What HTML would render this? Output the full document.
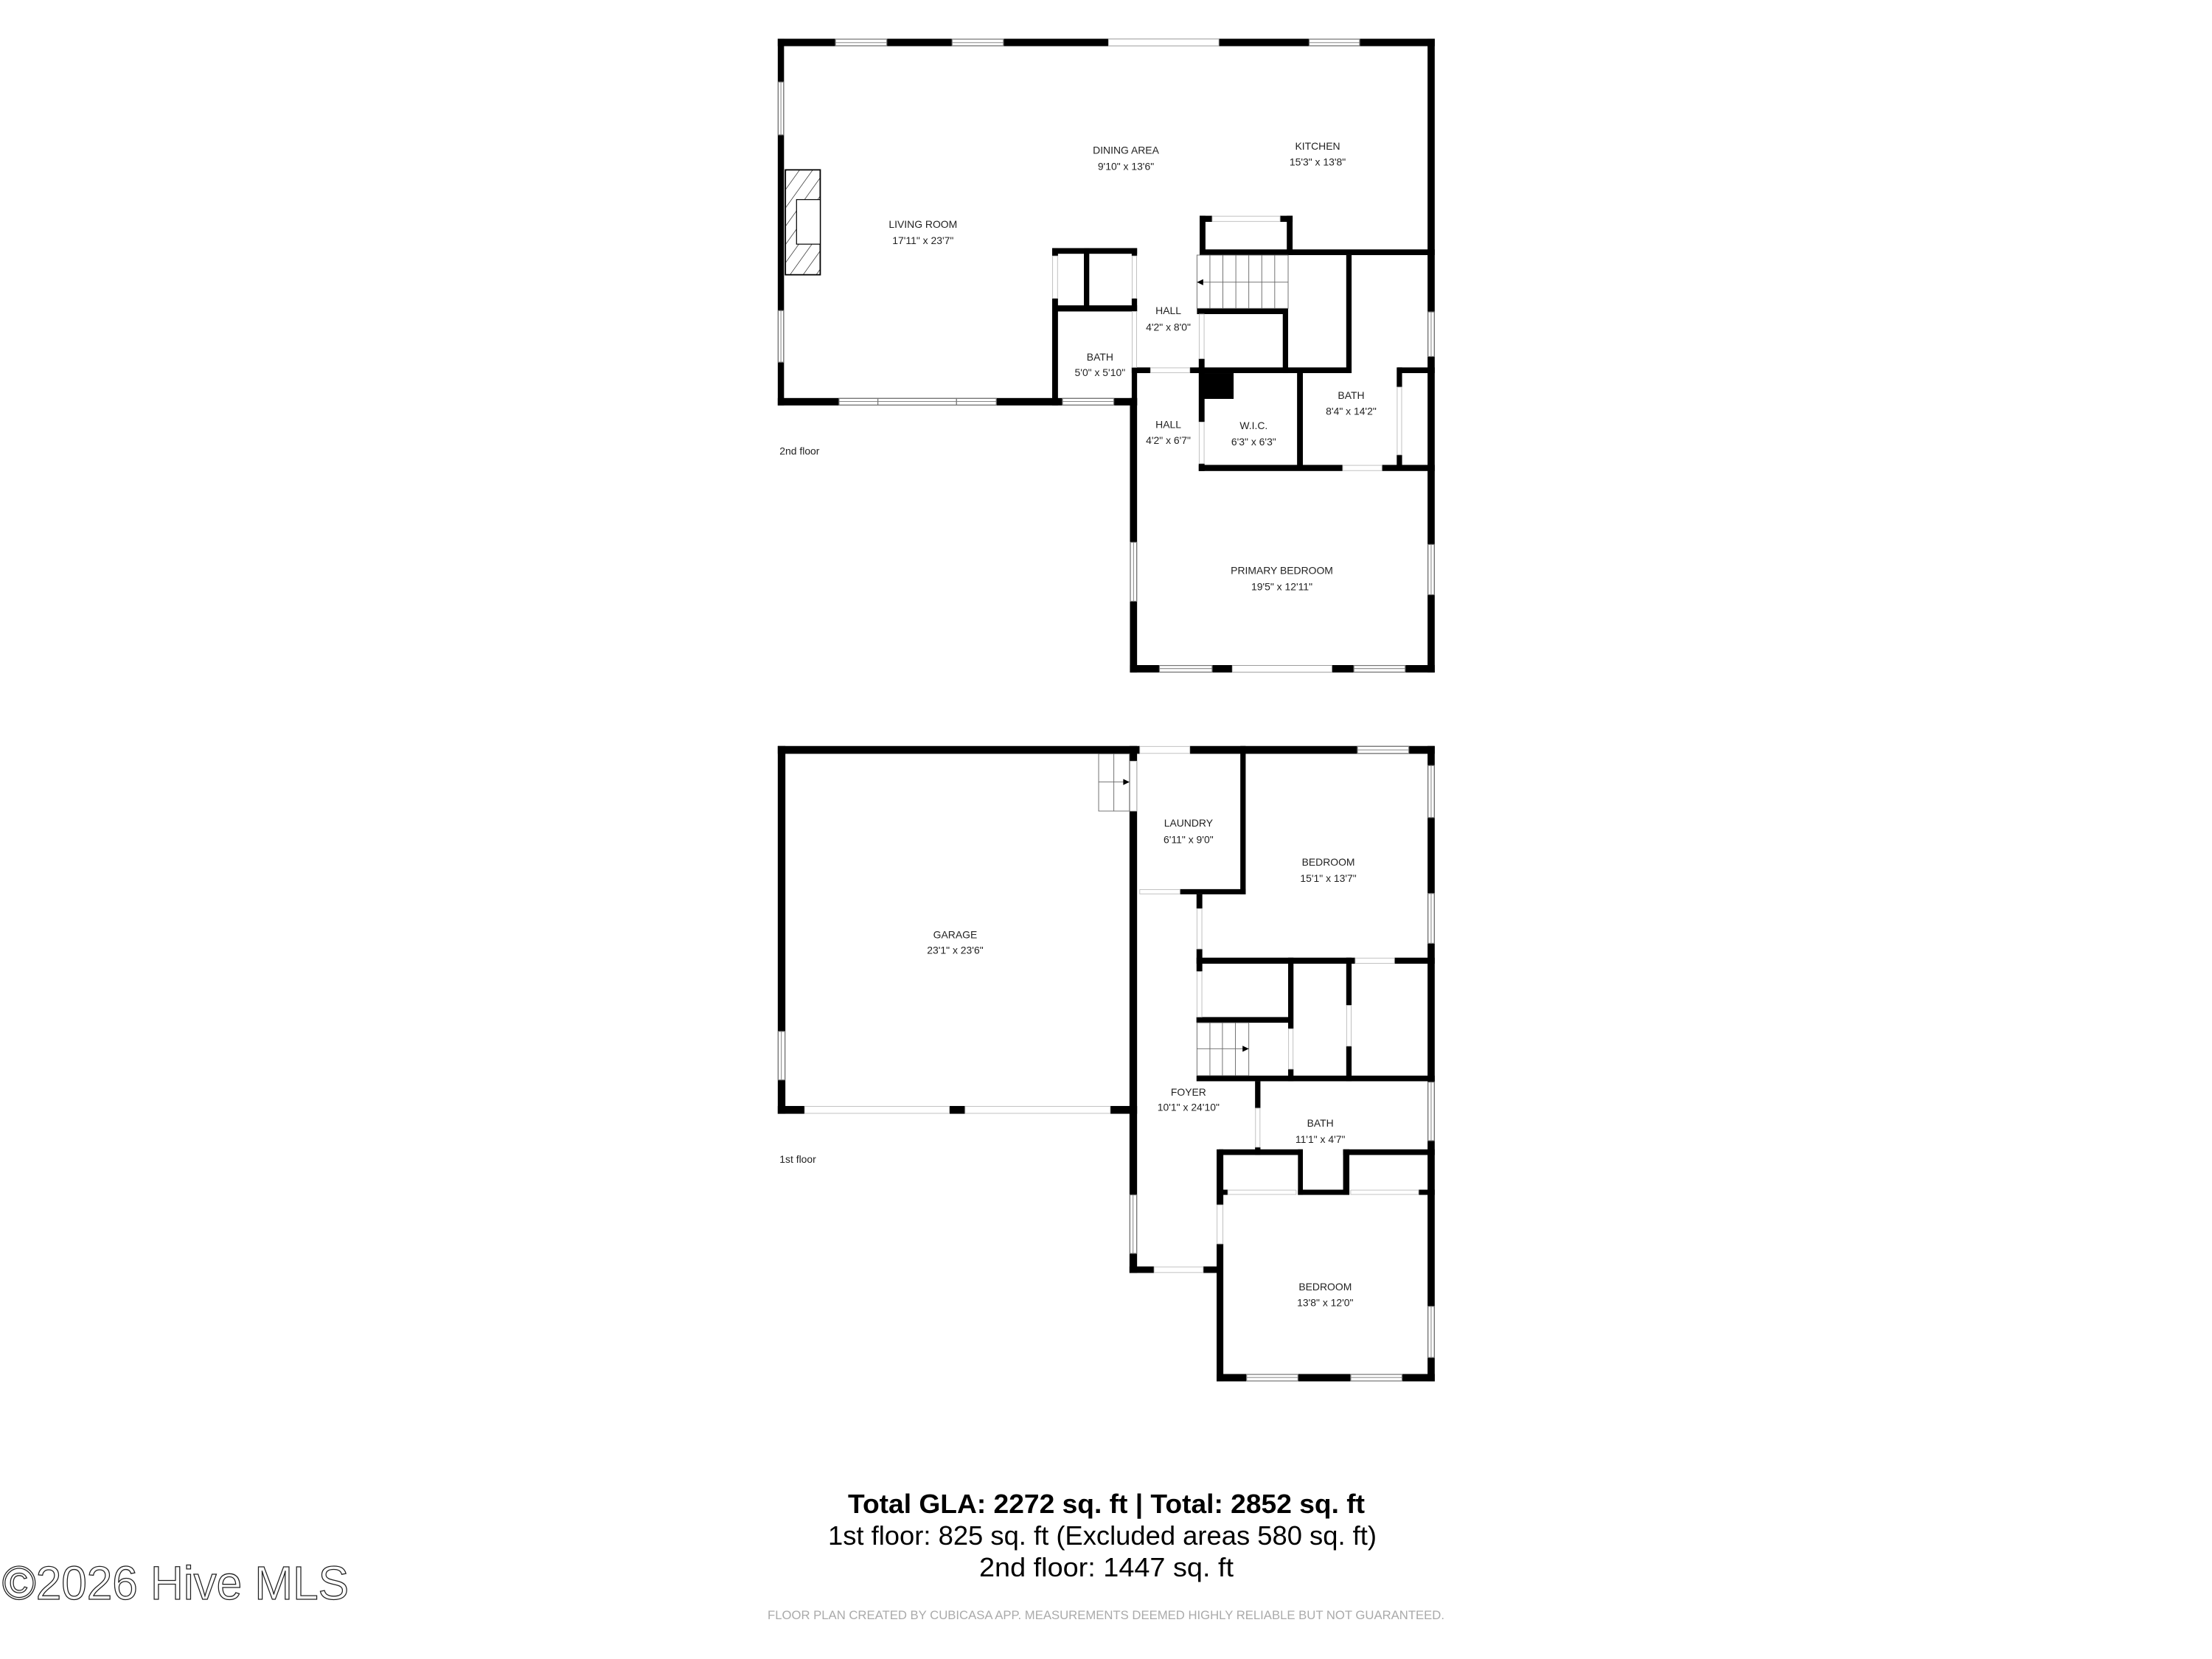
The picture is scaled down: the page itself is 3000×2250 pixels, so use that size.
<!DOCTYPE html>
<html><head><meta charset="utf-8"><style>
html,body{margin:0;padding:0;background:#fff;}
svg{display:block;}
.l{font-family:"Liberation Sans",sans-serif;font-size:23px;fill:#222;text-anchor:middle;}
.w{fill:#fff;stroke:#777;stroke-width:2;}
.o{fill:#fff;stroke:#bbb;stroke-width:1.5;}
.s{fill:none;stroke:#666;stroke-width:1.5;}
</style></head><body>
<svg width="3000" height="2250" viewBox="0 0 3000 2250" xmlns="http://www.w3.org/2000/svg">
<defs>
<pattern id="h" width="24" height="24" patternUnits="userSpaceOnUse" patternTransform="rotate(35)">
<line x1="0" y1="0" x2="0" y2="24" stroke="#000" stroke-width="2"/></pattern>
</defs>
<rect width="3000" height="2250" fill="#fff"/>

<!-- SECOND FLOOR -->
<g transform="translate(1050,30) scale(0.6061,0.5928)">
<g fill="#000">
<rect x="8" y="38" width="1470" height="17"/>
<rect x="8" y="38" width="14" height="839"/>
<rect x="8" y="860" width="804" height="17"/>
<rect x="1462" y="38" width="16" height="1450"/>
<rect x="796" y="860" width="16" height="628"/>
<rect x="796" y="1471" width="682" height="17"/>
<rect x="622" y="517" width="190" height="13"/>
<rect x="622" y="517" width="13" height="18"/>
<rect x="622" y="632" width="13" height="245"/>
<rect x="693" y="517" width="12" height="143"/>
<rect x="622" y="648" width="190" height="14"/>
<rect x="800" y="517" width="12" height="18"/>
<rect x="800" y="632" width="12" height="30"/>
<rect x="800" y="790" width="12" height="87"/>
<rect x="800" y="790" width="42" height="13"/>
<rect x="930" y="790" width="30" height="13"/>
<rect x="952" y="443" width="13" height="90"/>
<rect x="1147" y="443" width="13" height="90"/>
<rect x="952" y="443" width="28" height="14"/>
<rect x="1132" y="443" width="28" height="14"/>
<rect x="952" y="520" width="526" height="13"/>
<rect x="946" y="655" width="204" height="13"/>
<rect x="950" y="770" width="13" height="145"/>
<rect x="950" y="1010" width="13" height="17"/>
<rect x="1138" y="668" width="12" height="135"/>
<rect x="1280" y="533" width="12" height="270"/>
<rect x="950" y="790" width="340" height="13"/>
<rect x="1395" y="790" width="83" height="13"/>
<rect x="1393" y="790" width="12" height="45"/>
<rect x="1393" y="990" width="12" height="35"/>
<rect x="960" y="803" width="68" height="59"/>
<rect x="1170" y="803" width="13" height="222"/>
<rect x="950" y="1013" width="322" height="14"/>
<rect x="1360" y="1013" width="118" height="14"/>
</g>
<g class="w">
<rect x="137" y="39" width="115" height="15"/><rect x="398" y="39" width="115" height="15"/><rect x="1197" y="39" width="113" height="15"/>
<rect x="9" y="137" width="12" height="121"/><rect x="9" y="660" width="12" height="118"/>
<rect x="145" y="861" width="87" height="15"/><rect x="232" y="861" width="176" height="15"/><rect x="408" y="861" width="89" height="15"/><rect x="645" y="861" width="115" height="15"/>
<rect x="1463" y="663" width="14" height="102"/><rect x="1463" y="1195" width="14" height="115"/>
<rect x="797" y="1190" width="14" height="135"/>
<rect x="862" y="1472" width="118" height="15"/><rect x="1297" y="1472" width="115" height="15"/>
</g>
<g stroke="#777" stroke-width="1.5">
<line x1="137" y1="47" x2="252" y2="47"/><line x1="398" y1="47" x2="513" y2="47"/><line x1="1197" y1="47" x2="1310" y2="47"/>
<line x1="15" y1="137" x2="15" y2="258"/><line x1="15" y1="660" x2="15" y2="778"/>
<line x1="145" y1="868" x2="497" y2="868"/><line x1="645" y1="868" x2="760" y2="868"/>
<line x1="1470" y1="663" x2="1470" y2="765"/><line x1="1470" y1="1195" x2="1470" y2="1310"/>
<line x1="804" y1="1190" x2="804" y2="1325"/>
<line x1="862" y1="1479" x2="980" y2="1479"/><line x1="1297" y1="1479" x2="1412" y2="1479"/>
</g>
<g class="o">
<rect x="748" y="39" width="247" height="15"/>
<rect x="1025" y="1472" width="223" height="15"/>
<rect x="623" y="535" width="11" height="97"/>
<rect x="801" y="535" width="10" height="97"/>
<rect x="801" y="662" width="10" height="128"/>
<rect x="842" y="791" width="88" height="11"/>
<rect x="980" y="444" width="152" height="12"/>
<rect x="951" y="668" width="11" height="102"/>
<rect x="951" y="915" width="11" height="95"/>
<rect x="1394" y="835" width="10" height="155"/>
<rect x="1272" y="1014" width="88" height="12"/>
</g>
<rect x="25" y="338" width="78" height="240" fill="url(#h)" stroke="#000" stroke-width="3"/>
<rect x="50" y="406" width="53" height="102" fill="#fff" stroke="#000" stroke-width="2"/>
<rect x="946" y="533" width="204" height="122" class="s"/>
<g class="s"><line x1="975" y1="533" x2="975" y2="655"/><line x1="1004" y1="533" x2="1004" y2="655"/><line x1="1033" y1="533" x2="1033" y2="655"/><line x1="1062" y1="533" x2="1062" y2="655"/><line x1="1091" y1="533" x2="1091" y2="655"/><line x1="1120" y1="533" x2="1120" y2="655"/><line x1="946" y1="595" x2="1150" y2="595"/></g>
<polygon points="946,595 960,588 960,602" fill="#000"/>
<g class="l">
<text x="787" y="301">DINING AREA</text><text x="787" y="338">9'10" x 13'6"</text>
<text x="1216" y="292">KITCHEN</text><text x="1216" y="328">15'3" x 13'8"</text>
<text x="333" y="471">LIVING ROOM</text><text x="333" y="508">17'11" x 23'7"</text>
<text x="882" y="668">HALL</text><text x="882" y="706">4'2" x 8'0"</text>
<text x="729" y="774">BATH</text><text x="729" y="810">5'0" x 5'10"</text>
<text x="882" y="929">HALL</text><text x="882" y="965">4'2" x 6'7"</text>
<text x="1073" y="931">W.I.C.</text><text x="1073" y="968">6'3" x 6'3"</text>
<text x="1291" y="862">BATH</text><text x="1291" y="898">8'4" x 14'2"</text>
<text x="1136" y="1263">PRIMARY BEDROOM</text><text x="1136" y="1300">19'5" x 12'11"</text>
<text x="12" y="989" style="text-anchor:start">2nd floor</text>
</g>
</g>

<!-- FIRST FLOOR -->
<g transform="translate(1050,1000) scale(0.6061,0.5882)">
<g fill="#000">
<rect x="8" y="20" width="810" height="18"/>
<rect x="930" y="20" width="548" height="18"/>
<rect x="8" y="20" width="17" height="848"/>
<rect x="8" y="850" width="60" height="18"/>
<rect x="392" y="850" width="35" height="18"/>
<rect x="752" y="850" width="60" height="18"/>
<rect x="795" y="20" width="17" height="1215"/>
<rect x="1462" y="20" width="16" height="1465"/>
<rect x="1043" y="20" width="12" height="342"/>
<rect x="908" y="350" width="147" height="12"/>
<rect x="945" y="362" width="13" height="33"/>
<rect x="945" y="488" width="13" height="52"/>
<rect x="945" y="645" width="13" height="13"/>
<rect x="945" y="508" width="355" height="14"/>
<rect x="1388" y="508" width="90" height="14"/>
<rect x="945" y="645" width="215" height="13"/>
<rect x="1150" y="508" width="12" height="164"/>
<rect x="1150" y="765" width="12" height="28"/>
<rect x="1280" y="508" width="12" height="110"/>
<rect x="1280" y="712" width="12" height="81"/>
<rect x="945" y="780" width="533" height="13"/>
<rect x="1076" y="793" width="12" height="62"/>
<rect x="1076" y="945" width="12" height="18"/>
<rect x="995" y="950" width="188" height="13"/>
<rect x="1273" y="950" width="205" height="13"/>
<rect x="1172" y="950" width="11" height="105"/>
<rect x="1273" y="950" width="14" height="105"/>
<rect x="1172" y="1043" width="115" height="12"/>
<rect x="995" y="1043" width="20" height="12"/>
<rect x="1442" y="1043" width="36" height="12"/>
<rect x="990" y="950" width="15" height="128"/>
<rect x="990" y="1168" width="15" height="317"/>
<rect x="795" y="1220" width="55" height="15"/>
<rect x="960" y="1220" width="35" height="15"/>
<rect x="990" y="1468" width="488" height="17"/>
</g>
<g class="w">
<rect x="9" y="678" width="15" height="112"/>
<rect x="796" y="1055" width="15" height="135"/>
<rect x="1463" y="65" width="14" height="120"/><rect x="1463" y="360" width="14" height="115"/><rect x="1463" y="795" width="14" height="135"/><rect x="1463" y="1312" width="14" height="118"/>
<rect x="1305" y="21" width="115" height="16"/>
<rect x="1057" y="1469" width="115" height="15"/><rect x="1290" y="1469" width="115" height="15"/>
</g>
<g stroke="#777" stroke-width="1.5">
<line x1="16" y1="678" x2="16" y2="790"/><line x1="803" y1="1055" x2="803" y2="1190"/>
<line x1="1470" y1="65" x2="1470" y2="185"/><line x1="1470" y1="360" x2="1470" y2="475"/><line x1="1470" y1="795" x2="1470" y2="930"/><line x1="1470" y1="1312" x2="1470" y2="1430"/>
<line x1="1305" y1="29" x2="1420" y2="29"/>
<line x1="1057" y1="1476" x2="1172" y2="1476"/><line x1="1290" y1="1476" x2="1405" y2="1476"/>
</g>
<g class="o">
<rect x="818" y="21" width="112" height="16"/>
<rect x="68" y="851" width="324" height="16"/><rect x="427" y="851" width="325" height="16"/>
<rect x="796" y="55" width="15" height="115"/>
<rect x="818" y="351" width="90" height="10"/>
<rect x="946" y="395" width="11" height="93"/>
<rect x="946" y="540" width="11" height="105"/>
<rect x="1300" y="509" width="88" height="12"/>
<rect x="1151" y="672" width="10" height="93"/>
<rect x="1281" y="618" width="10" height="94"/>
<rect x="1077" y="855" width="10" height="90"/>
<rect x="1015" y="1044" width="153" height="10"/>
<rect x="1290" y="1044" width="152" height="10"/>
<rect x="991" y="1078" width="13" height="90"/>
<rect x="850" y="1221" width="110" height="13"/>
</g>
<rect x="726" y="38" width="69" height="132" class="s"/>
<g class="s"><line x1="760" y1="38" x2="760" y2="170"/><line x1="726" y1="103" x2="795" y2="103"/></g>
<polygon points="795,103 781,96 781,110" fill="#000"/>
<rect x="946" y="658" width="116" height="122" class="s"/>
<g class="s"><line x1="975" y1="658" x2="975" y2="780"/><line x1="1003" y1="658" x2="1003" y2="780"/><line x1="1032" y1="658" x2="1032" y2="780"/><line x1="946" y1="718" x2="1062" y2="718"/></g>
<polygon points="1062,718 1048,711 1048,725" fill="#000"/>
<g class="l">
<text x="927" y="206">LAUNDRY</text><text x="927" y="244">6'11" x 9'0"</text>
<text x="1240" y="296">BEDROOM</text><text x="1240" y="333">15'1" x 13'7"</text>
<text x="405" y="463">GARAGE</text><text x="405" y="499">23'1" x 23'6"</text>
<text x="927" y="826">FOYER</text><text x="927" y="861">10'1" x 24'10"</text>
<text x="1222" y="898">BATH</text><text x="1222" y="935">11'1" x 4'7"</text>
<text x="1233" y="1275">BEDROOM</text><text x="1233" y="1312">13'8" x 12'0"</text>
<text x="12" y="981" style="text-anchor:start">1st floor</text>
</g>
</g>

<g font-family="Liberation Sans, sans-serif">
<text x="1150" y="2052" font-size="36" font-weight="bold" fill="#000" textLength="701" lengthAdjust="spacingAndGlyphs">Total GLA: 2272 sq. ft | Total: 2852 sq. ft</text>
<text x="1123" y="2095" font-size="36" fill="#000" textLength="744" lengthAdjust="spacingAndGlyphs">1st floor: 825 sq. ft (Excluded areas 580 sq. ft)</text>
<text x="1328" y="2138" font-size="36" fill="#000" textLength="345" lengthAdjust="spacingAndGlyphs">2nd floor: 1447 sq. ft</text>
<text x="1041" y="2196" font-size="17" fill="#aaa" textLength="918" lengthAdjust="spacingAndGlyphs">FLOOR PLAN CREATED BY CUBICASA APP. MEASUREMENTS DEEMED HIGHLY RELIABLE BUT NOT GUARANTEED.</text>
</g>
<text x="3" y="2169" font-family="Liberation Sans, sans-serif" font-size="64" fill="none" stroke="#222" stroke-width="1.3" textLength="470" lengthAdjust="spacingAndGlyphs">©2026 Hive MLS</text>
</svg>
</body></html>
